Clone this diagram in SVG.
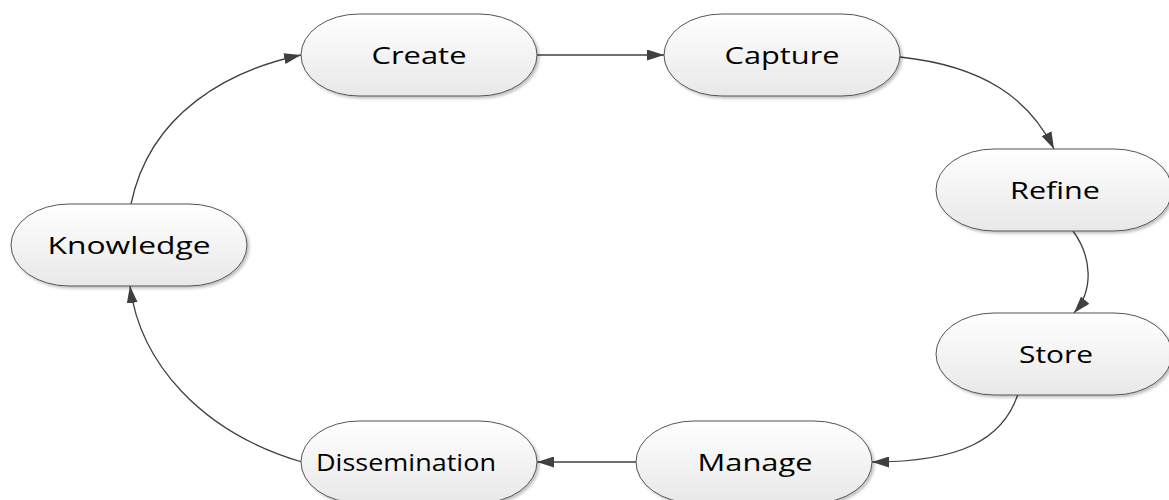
<svg xmlns="http://www.w3.org/2000/svg" width="1169" height="500" viewBox="0 0 1169 500">
<defs>
<linearGradient id="g" x1="0" y1="0" x2="0" y2="1">
<stop offset="0" stop-color="#ffffff"/>
<stop offset="1" stop-color="#e8e8e8"/>
</linearGradient>
<marker id="arr" viewBox="0 0 17 11" refX="17" refY="5.5" markerWidth="17" markerHeight="11" markerUnits="userSpaceOnUse" orient="auto">
<path d="M0,0 L17,5.5 L0,11 z" fill="#404040"/>
</marker>
<filter id="sh" x="-10%" y="-10%" width="130%" height="130%">
<feGaussianBlur in="SourceAlpha" stdDeviation="1.5"/>
<feOffset dx="2" dy="2"/>
<feComponentTransfer><feFuncA type="linear" slope="0.25"/></feComponentTransfer>
<feMerge><feMergeNode/><feMergeNode in="SourceGraphic"/></feMerge>
</filter>
</defs>
<style>
.n rect{fill:url(#g);stroke:#555;stroke-width:1;filter:url(#sh)}
.n text{font-family:"Open Sans","Noto Sans",sans-serif;font-size:24px;fill:#000;text-anchor:middle}
.c path{fill:none;stroke:#404040;stroke-width:1.3;marker-end:url(#arr)}
</style>
<g class="c" id="connectors">
<path d="M537,55 L664,55"/>
<path d="M900,57 C985,66 1030,100 1054,149"/>
<path d="M1073,231 C1092,257 1094,290 1074,313"/>
<path d="M1018,394 C1003,440 960,462 872,462"/>
<path d="M636,462 L537,462"/>
<path d="M302,462 C200,432 140,362 130,286"/>
<path d="M131,204 C150,112 230,70 301,55"/>
</g>
<g class="n" id="create"><rect x="301" y="14" width="236" height="82" rx="58" ry="41"/><text x="419" y="64" textLength="95" lengthAdjust="spacingAndGlyphs">Create</text></g>
<g class="n" id="capture"><rect x="664" y="14" width="236" height="82" rx="58" ry="41"/><text x="782" y="64" textLength="115" lengthAdjust="spacingAndGlyphs">Capture</text></g>
<g class="n" id="refine"><rect x="936" y="149" width="236" height="82" rx="58" ry="41"/><text x="1055" y="199" textLength="90" lengthAdjust="spacingAndGlyphs">Refine</text></g>
<g class="n" id="store"><rect x="936" y="313" width="236" height="82" rx="58" ry="41"/><text x="1056" y="363" textLength="74" lengthAdjust="spacingAndGlyphs">Store</text></g>
<g class="n" id="manage"><rect x="636" y="421" width="236" height="82" rx="58" ry="41"/><text x="755" y="471" textLength="115" lengthAdjust="spacingAndGlyphs">Manage</text></g>
<g class="n" id="dissemination"><rect x="301" y="421" width="236" height="82" rx="58" ry="41"/><text x="406" y="471" textLength="180" lengthAdjust="spacingAndGlyphs">Dissemination</text></g>
<g class="n" id="knowledge"><rect x="11" y="204" width="236" height="82" rx="58" ry="41"/><text x="129" y="254" textLength="163" lengthAdjust="spacingAndGlyphs">Knowledge</text></g>
</svg>
